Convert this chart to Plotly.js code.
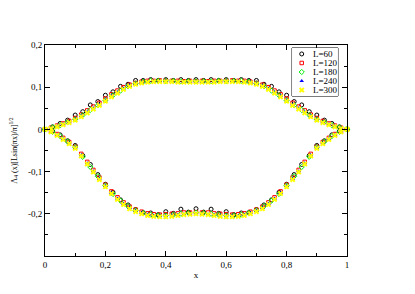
<!DOCTYPE html>
<html>
<head>
<meta charset="utf-8">
<script src="https://cdn.plot.ly/plotly-3.0.1.min.js"></script>
<style>html,body{margin:0;padding:0;background:#fff;}#chart{width:415px;height:294px;}</style>
</head>
<body>
<div id="chart"></div>
<script>
// x grids
const X25 = [0,0.025,0.05,0.075,0.1,0.125,0.15,0.175,0.2,0.225,0.25,0.275,0.3,0.325,0.35,0.375,0.4,0.425,0.45,0.475,0.5,
  0.525,0.55,0.575,0.6,0.625,0.65,0.675,0.7,0.725,0.75,0.775,0.8,0.825,0.85,0.875,0.9,0.925,0.95,0.975,1];
const X20 = [0,0.02,0.04,0.06,0.08,0.1,0.12,0.14,0.16,0.18,0.2,0.22,0.24,0.26,0.28,0.3,0.32,0.34,0.36,0.38,0.4,0.42,0.44,0.46,0.48,0.5,
  0.52,0.54,0.56,0.58,0.6,0.62,0.64,0.66,0.68,0.7,0.72,0.74,0.76,0.78,0.8,0.82,0.84,0.86,0.88,0.9,0.92,0.94,0.96,0.98,1];

// L=60 (on X25)
const U60 = [0,0.006,0.014,0.022,0.034,0.042,0.058,0.066,0.081,0.089,0.102,0.107,0.116,0.116,0.118,0.116,0.118,0.116,0.118,0.116,0.118,
  0.116,0.118,0.116,0.118,0.116,0.118,0.116,0.116,0.107,0.102,0.089,0.081,0.066,0.058,0.042,0.034,0.022,0.014,0.006,0];
const D60 = [0,-0.004,-0.013,-0.027,-0.038,-0.062,-0.083,-0.107,-0.130,-0.149,-0.167,-0.179,-0.190,-0.197,-0.198,-0.202,-0.195,-0.199,-0.189,-0.196,-0.188,
  -0.196,-0.189,-0.199,-0.195,-0.202,-0.198,-0.197,-0.190,-0.179,-0.167,-0.149,-0.130,-0.107,-0.083,-0.062,-0.038,-0.027,-0.013,-0.004,0];

// L=120 (on X20)
const U120 = [0,0.004,0.009,0.014,0.020,0.027,0.035,0.045,0.054,0.063,0.073,0.083,0.092,0.100,0.106,0.110,0.113,0.115,0.115,0.116,0.115,0.115,0.115,0.114,0.115,0.114,
  0.115,0.114,0.115,0.115,0.115,0.116,0.115,0.115,0.113,0.110,0.106,0.100,0.092,0.083,0.073,0.063,0.054,0.045,0.035,0.027,0.020,0.014,0.009,0.004,0];
const D120 = [0,-0.004,-0.011,-0.020,-0.030,-0.041,-0.058,-0.077,-0.096,-0.114,-0.131,-0.147,-0.161,-0.173,-0.183,-0.190,-0.195,-0.199,-0.201,-0.202,-0.201,-0.200,-0.199,-0.197,-0.197,-0.196,
  -0.197,-0.197,-0.199,-0.200,-0.201,-0.202,-0.201,-0.199,-0.195,-0.190,-0.183,-0.173,-0.161,-0.147,-0.131,-0.114,-0.096,-0.077,-0.058,-0.041,-0.030,-0.020,-0.011,-0.004,0];

// L=180 (on X25)
const U180 = [0,0.005,0.010,0.017,0.024,0.034,0.046,0.057,0.069,0.081,0.092,0.102,0.109,0.113,0.115,0.115,0.115,0.115,0.114,0.114,0.114,
  0.114,0.114,0.115,0.115,0.115,0.115,0.113,0.109,0.102,0.092,0.081,0.069,0.057,0.046,0.034,0.024,0.017,0.010,0.005,0];
const D180 = [0,-0.006,-0.016,-0.029,-0.042,-0.065,-0.089,-0.111,-0.133,-0.153,-0.169,-0.182,-0.192,-0.198,-0.202,-0.204,-0.204,-0.202,-0.200,-0.198,-0.197,
  -0.198,-0.200,-0.202,-0.204,-0.204,-0.202,-0.198,-0.192,-0.182,-0.169,-0.153,-0.133,-0.111,-0.089,-0.065,-0.042,-0.029,-0.016,-0.006,0];

// L=240 (on X20)
const U240 = [0,0.003,0.007,0.012,0.017,0.024,0.032,0.041,0.050,0.059,0.069,0.079,0.088,0.097,0.104,0.108,0.111,0.113,0.114,0.114,0.114,0.113,0.113,0.113,0.113,0.113,
  0.113,0.113,0.113,0.113,0.114,0.114,0.114,0.113,0.111,0.108,0.104,0.097,0.088,0.079,0.069,0.059,0.050,0.041,0.032,0.024,0.017,0.012,0.007,0.003,0];
const D240 = [0,-0.005,-0.013,-0.023,-0.033,-0.044,-0.061,-0.080,-0.099,-0.117,-0.134,-0.150,-0.164,-0.176,-0.186,-0.193,-0.198,-0.202,-0.204,-0.205,-0.205,-0.204,-0.202,-0.201,-0.200,-0.199,
  -0.200,-0.201,-0.202,-0.204,-0.205,-0.205,-0.204,-0.202,-0.198,-0.193,-0.186,-0.176,-0.164,-0.150,-0.134,-0.117,-0.099,-0.080,-0.061,-0.044,-0.033,-0.023,-0.013,-0.005,0];

// L=300 (on X20)
const U300 = [0,0.002,0.006,0.011,0.016,0.022,0.030,0.039,0.048,0.057,0.067,0.077,0.086,0.095,0.102,0.107,0.110,0.112,0.113,0.113,0.113,0.113,0.112,0.112,0.112,0.112,
  0.112,0.112,0.112,0.113,0.113,0.113,0.113,0.112,0.110,0.107,0.102,0.095,0.086,0.077,0.067,0.057,0.048,0.039,0.030,0.022,0.016,0.011,0.006,0.002,0];
const D300 = [0,-0.006,-0.014,-0.024,-0.034,-0.045,-0.063,-0.082,-0.101,-0.119,-0.136,-0.152,-0.166,-0.178,-0.188,-0.195,-0.200,-0.204,-0.206,-0.207,-0.207,-0.206,-0.204,-0.202,-0.201,-0.200,
  -0.201,-0.202,-0.204,-0.206,-0.207,-0.207,-0.206,-0.204,-0.200,-0.195,-0.188,-0.178,-0.166,-0.152,-0.136,-0.119,-0.101,-0.082,-0.063,-0.045,-0.034,-0.024,-0.014,-0.006,0];

const seriesNames = ['L=60','L=120','L=180','L=240','L=300'];
const xTickVals = [0,0.2,0.4,0.6,0.8,1];
const xTickText = ['0','0,2','0,4','0,6','0,8','1'];
const yTickVals = [-0.2,-0.1,0,0.1,0.2];
const yTickText = ['-0,2','-0,1','0','0,1','0,2'];

const FONT = 'Liberation Serif, Times New Roman, serif';

const markers = [
  {symbol:'circle-open', size:4, color:'#000', line:{width:1,color:'#000'}},
  {symbol:'square-open', size:3.5, color:'#ff0000', line:{width:1,color:'#ff0000'}},
  {symbol:'diamond-open', size:4, color:'#00ee00', line:{width:1,color:'#00ee00'}},
  {symbol:'triangle-up', size:4, color:'#0000ff', line:{width:0}},
  {symbol:'x', size:5, color:'#ffff00', line:{width:0}}
];
const seriesX = [X25, X20, X25, X20, X20];
const seriesU = [U60, U120, U180, U240, U300];
const seriesD = [D60, D120, D180, D240, D300];

const data = [];
seriesNames.forEach(function(name, i) {
  data.push({
    type: 'scatter', mode: 'markers', name: name, showlegend: false,
    x: seriesX[i].concat(seriesX[i]), y: seriesU[i].concat(seriesD[i]),
    marker: markers[i], cliponaxis: false
  });
});

// Legend drawn inside a small overlay axis box (rows in pixel-like units)
const legRowGap = 9, legFirstRow = 6, legSymX = 9.7, legTextX = 19.5;
seriesNames.forEach(function(name, i) {
  data.push({
    type: 'scatter', mode: 'markers', name: name, showlegend: false,
    xaxis: 'x2', yaxis: 'y2',
    x: [legSymX], y: [legFirstRow + legRowGap * i],
    marker: markers[i], cliponaxis: false, hoverinfo: 'skip'
  });
});
const annotations = seriesNames.map(function(name, i) {
  return {
    xref: 'x2', yref: 'y2', x: legTextX, y: legFirstRow + legRowGap * i,
    text: name, showarrow: false, xanchor: 'left', yanchor: 'middle',
    font: {family: FONT, size: 9, color: '#000'}
  };
});

const axisCommon = {
  showline: true, linecolor: '#000', linewidth: 1, mirror: 'ticks',
  ticks: 'inside', ticklen: 5, tickwidth: 1, tickcolor: '#000',
  showgrid: false, zeroline: false,
  tickfont: {family: FONT, size: 9, color: '#000'}
};

const legBox = {x0: 0.818, x1: 0.970, y0: 0.758, y1: 0.986};

const layout = {
  width: 415, height: 294,
  margin: {l: 45, r: 68, t: 45, b: 38},
  paper_bgcolor: '#fff', plot_bgcolor: '#fff',
  showlegend: false,
  xaxis: Object.assign({}, axisCommon, {
    range: [0, 1], tickmode: 'array', tickvals: xTickVals, ticktext: xTickText,
    minor: {dtick: 0.1, ticks: 'inside', ticklen: 3, tickcolor: '#000', showgrid: false},
    title: {text: 'x', font: {family: FONT, size: 9, color: '#000'}, standoff: 2}
  }),
  yaxis: Object.assign({}, axisCommon, {
    range: [-0.3, 0.2], tickmode: 'array', tickvals: yTickVals, ticktext: yTickText,
    minor: {dtick: 0.05, ticks: 'inside', ticklen: 3, tickcolor: '#000', showgrid: false},
    title: {text: 'Λ<sub>4</sub> (x)[Lsin(πx)/π]<sup>1/2</sup>', font: {family: FONT, size: 8, color: '#000'}, standoff: 9}
  }),
  xaxis2: {domain: [legBox.x0, legBox.x1], range: [0, 46], anchor: 'y2', visible: false, fixedrange: true},
  yaxis2: {domain: [legBox.y0, legBox.y1], range: [48, 0], anchor: 'x2', visible: false, fixedrange: true},
  shapes: [{
    type: 'rect', xref: 'paper', yref: 'paper',
    x0: legBox.x0, x1: legBox.x1, y0: legBox.y0, y1: legBox.y1,
    line: {color: '#000', width: 1}, fillcolor: '#fff', layer: 'below'
  }],
  annotations: annotations
};

Plotly.newPlot('chart', data, layout, {staticPlot: true, displayModeBar: false});
</script>
</body>
</html>
